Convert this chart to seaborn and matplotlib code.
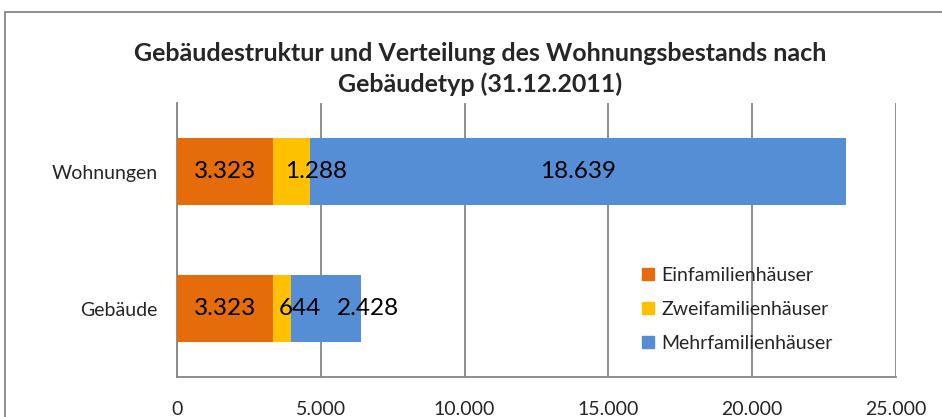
import matplotlib.pyplot as plt
import matplotlib.patches as mpatches
from matplotlib.lines import Line2D
import seaborn as sns
import pandas as pd
import numpy as np

# Werte aus dem Diagramm
kategorien = ["Wohnungen", "Gebäude"]
serien = ["Einfamilienhäuser", "Zweifamilienhäuser", "Mehrfamilienhäuser"]
einfamilien = [3323, 3323]
zweifamilien = [1288, 644]
mehrfamilien = [18639, 2428]
farben = ["#E46C0A", "#FFC000", "#558ED5"]
x_ticks = [0, 5000, 10000, 15000, 20000, 25000]

# Verschiebung der Beschriftungen (Pixel) wie im Original
label_shift = {"Wohnungen": [0, 25, 0], "Gebäude": [0, 18, 42]}

sns.set_style("white")
plt.rcParams["font.family"] = ["Lato", "DejaVu Sans"]

df = pd.DataFrame({
    "kategorie": kategorien,
    serien[0]: einfamilien,
    serien[1]: zweifamilien,
    serien[2]: mehrfamilien,
})
cum = df[serien].cumsum(axis=1)

fig = plt.figure(figsize=(9.42, 4.17), dpi=100)
ax = fig.add_axes([0.1879, 0.0959, 0.9512 - 0.1879, 0.753 - 0.0959])

# gestapelt: von der Gesamtsumme rückwärts zeichnen
for i in range(len(serien) - 1, -1, -1):
    sns.barplot(x=cum[serien[i]], y=df["kategorie"], order=kategorien,
                color=farben[i], width=0.49, saturation=1, orient="h",
                linewidth=0, ax=ax, zorder=3)

# Datenbeschriftungen
for r, kat in enumerate(kategorien):
    start = 0
    for i, s in enumerate(serien):
        val = df.loc[r, s]
        mitte = start + val / 2
        lbl = f"{val:,}".replace(",", ".")
        ax.annotate(lbl, (mitte, r), xytext=(label_shift[kat][i] * 0.72, 0),
                    textcoords="offset points", ha="center", va="center",
                    fontsize=17.5, color="black", zorder=5)
        start += val

ax.set_xlim(0, 25000)
ax.set_ylim(1.5, -0.5)
ax.set_xticks(x_ticks)
ax.set_xticklabels([f"{t:,}".replace(",", ".") for t in x_ticks], fontsize=14)
ax.set_yticks([0, 1])
ax.set_yticklabels(kategorien, fontsize=14)
ax.set_yticks([-0.5, 0.5, 1.5], minor=True)
ax.tick_params(axis="y", which="major", length=0, pad=14)
ax.tick_params(axis="y", which="minor", length=6, width=1.3, color="#868686", direction="out")
ax.tick_params(axis="x", length=6, width=1.3, color="#868686", direction="out", pad=11)
ax.set_xlabel("")
ax.set_ylabel("")
ax.grid(axis="x", color="#868686", linewidth=1.3, zorder=0)
ax.set_axisbelow(True)
for side in ["top", "right"]:
    ax.spines[side].set_visible(False)
for side in ["left", "bottom"]:
    ax.spines[side].set_color("#868686")
    ax.spines[side].set_linewidth(1.3)

handles = [Line2D([0], [0], marker="s", linestyle="", markersize=8,
                  markerfacecolor=c, markeredgecolor=c) for c in farben]
ax.legend(handles, serien, loc="upper left", bbox_to_anchor=(0.633, 0.43),
          frameon=False, fontsize=14, labelspacing=0.88, handlelength=0.8,
          handletextpad=0.3, borderaxespad=0)

fig.text(0.51, 0.835, "Gebäudestruktur und Verteilung des Wohnungsbestands nach\nGebäudetyp (31.12.2011)",
         ha="center", va="center", fontsize=18, fontweight="bold", linespacing=1.4)

# Rahmen des Diagrammbereichs
fig.patches.append(mpatches.Rectangle((5 / 942, -0.1), 1.1, 1 - 12 / 417 + 0.1,
                                      transform=fig.transFigure, fill=False,
                                      edgecolor="#868686", linewidth=1.3))

fig.savefig("out.png", dpi=100)
